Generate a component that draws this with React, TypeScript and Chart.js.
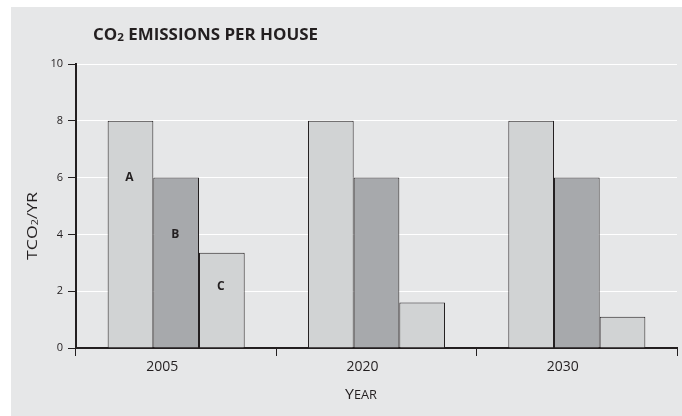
import React, { useEffect, useRef } from "react";
import { Chart, registerables } from "chart.js";

Chart.register(...registerables);

// ---- data ----
const years = ["2005", "2020", "2030"];
const seriesNames = ["A", "B", "C"];
const seriesA = [8, 8, 8];
const seriesB = [6, 6, 6];
const seriesC = [3.35, 1.6, 1.1];
const seriesNameLevels = [6, 4, 2.15]; // value height of the letter inside the first group's bars
const yMin = 0;
const yMax = 10;
const yStep = 2;
const chartTitle = ["CO", "2", " EMISSIONS PER HOUSE"];
const yTitle = ["TCO", "2", "/YR"];
const xTitle = ["Y", "EAR"];

// ---- styles ----
const INK = "#231f20";
const BG = "#e6e7e8";
const LIGHT = "#d1d3d4";
const DARK = "#a7a9ac";
const FAMILY = "'Open Sans', 'DejaVu Sans', sans-serif";

type Part = { t: string; size: number; bold?: boolean; dy?: number };

function drawParts(ctx: CanvasRenderingContext2D, parts: Part[], x: number, y: number, targetW: number) {
  ctx.save();
  ctx.textBaseline = "alphabetic";
  ctx.textAlign = "left";
  let total = 0;
  const widths = parts.map((p) => {
    ctx.font = `${p.bold ? "bold " : ""}${p.size}px ${FAMILY}`;
    const w = ctx.measureText(p.t).width;
    total += w;
    return w;
  });
  const sx = targetW / total;
  ctx.translate(x, y);
  ctx.scale(sx, 1);
  let cx = 0;
  parts.forEach((p, i) => {
    ctx.font = `${p.bold ? "bold " : ""}${p.size}px ${FAMILY}`;
    ctx.fillStyle = INK;
    ctx.fillText(p.t, cx, p.dy || 0);
    cx += widths[i];
  });
  ctx.restore();
}

const textPlugin = {
  id: "texts",
  afterDraw(chart: any) {
    const ctx: CanvasRenderingContext2D = chart.ctx;
    // title
    drawParts(
      ctx,
      [
        { t: chartTitle[0], size: 16, bold: true },
        { t: chartTitle[1], size: 11, bold: true, dy: 1 },
        { t: chartTitle[2], size: 16, bold: true },
      ],
      93,
      40,
      225
    );
    // x title
    drawParts(
      ctx,
      [
        { t: xTitle[0], size: 15 },
        { t: xTitle[1], size: 12 },
      ],
      345,
      399,
      32
    );
    // y title (rotated)
    ctx.save();
    ctx.translate(37, 226);
    ctx.rotate(-Math.PI / 2);
    drawParts(
      ctx,
      [
        { t: yTitle[0], size: 15 },
        { t: yTitle[1], size: 9, dy: 1 },
        { t: yTitle[2], size: 15 },
      ],
      -34,
      0,
      68
    );
    ctx.restore();
    // series letters inside first group
    const yScale = chart.scales.y;
    ctx.save();
    ctx.font = `bold 12px ${FAMILY}`;
    ctx.fillStyle = INK;
    ctx.textAlign = "center";
    ctx.textBaseline = "middle";
    seriesNames.forEach((name, i) => {
      const bar = chart.getDatasetMeta(i).data[0];
      ctx.fillText(name, bar.x - 1, yScale.getPixelForValue(seriesNameLevels[i]));
    });
    ctx.restore();
  },
};

export default function App() {
  const ref = useRef<HTMLCanvasElement>(null);
  useEffect(() => {
    if (!ref.current) return;
    const chart = new Chart(ref.current, {
      type: "bar",
      data: {
        labels: years,
        datasets: [
          { label: seriesNames[0], data: seriesA, backgroundColor: LIGHT },
          { label: seriesNames[1], data: seriesB, backgroundColor: DARK },
          { label: seriesNames[2], data: seriesC, backgroundColor: LIGHT },
        ].map((d) => ({
          ...d,
          borderColor: INK,
          borderWidth: 1,
          barPercentage: 1,
          categoryPercentage: 0.684,
        })),
      },
      options: {
        responsive: false,
        animation: false,
        devicePixelRatio: 1,
        layout: { padding: { top: 64, right: 5, left: 0, bottom: 0 } },
        plugins: {
          legend: { display: false },
          title: { display: false },
          tooltip: { enabled: false },
        },
        scales: {
          x: {
            type: "category",
            offset: true,
            afterFit: (s: any) => {
              s.height = 68;
            },
            grid: {
              offset: true,
              drawOnChartArea: false,
              drawTicks: true,
              tickLength: 8,
              color: INK,
              tickColor: INK,
              lineWidth: 1,
            },
            border: { display: true, color: INK, width: 2 },
            ticks: {
              color: INK,
              font: { family: FAMILY, size: 14 },
              padding: 3,
              labelOffset: -14,
              maxRotation: 0,
            },
          },
          y: {
            min: yMin,
            max: yMax,
            afterFit: (s: any) => {
              s.width = 76;
            },
            grid: {
              color: "#ffffff",
              tickColor: INK,
              tickLength: 8,
              lineWidth: 1,
            },
            border: { display: true, color: INK, width: 2 },
            ticks: {
              stepSize: yStep,
              color: INK,
              font: { family: FAMILY, size: 11 },
              padding: 5,
            },
          },
        },
      },
      plugins: [textPlugin],
    } as any);
    return () => chart.destroy();
  }, []);

  return (
    <div style={{ position: "absolute", left: 0, top: 0, width: 682, height: 416, background: "#ffffff", overflow: "hidden" }}>
      <div style={{ position: "absolute", left: 11, top: 7, width: 671, height: 409, background: BG }} />
      <canvas
        ref={ref}
        width={682}
        height={416}
        style={{ position: "absolute", left: 0, top: 0, width: 682, height: 416, display: "block" }}
      />
    </div>
  );
}
